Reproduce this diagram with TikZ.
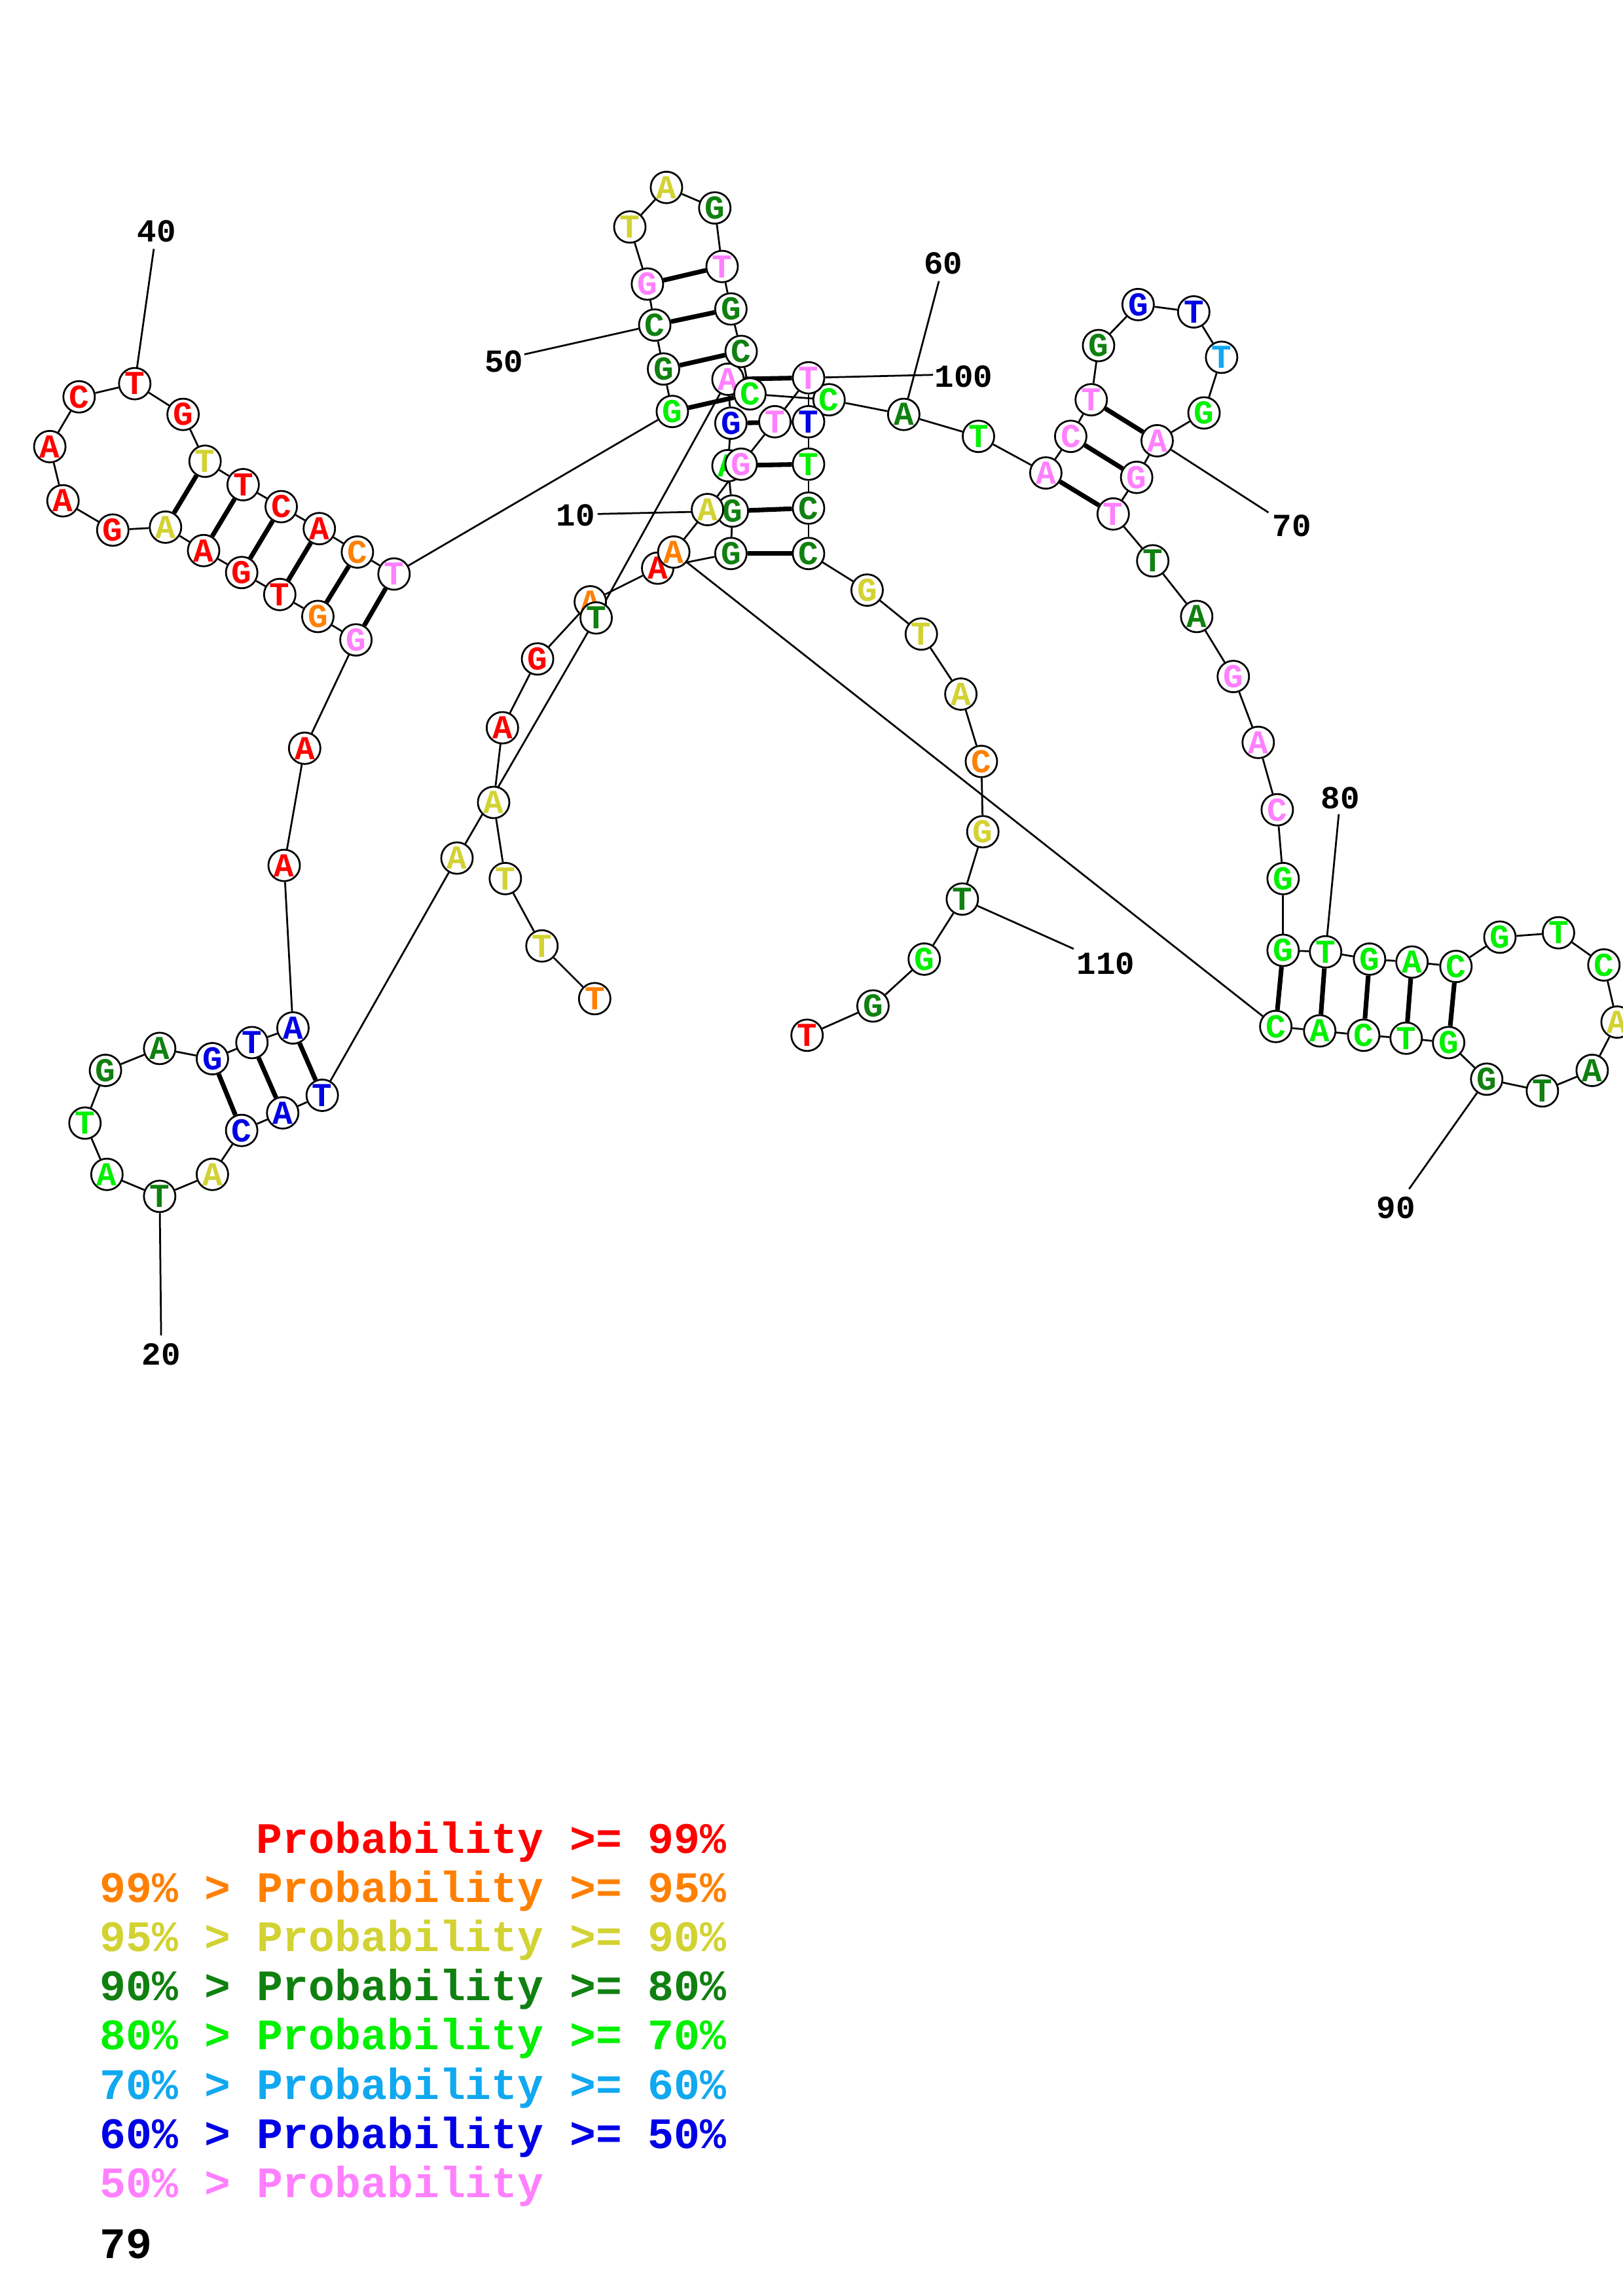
\documentclass[tikz,border=0pt]{standalone}
\usepackage{fontspec}
\setmonofont{Liberation Mono}
\usetikzlibrary{backgrounds}
\definecolor{cR}{HTML}{FF0000}
\definecolor{cO}{HTML}{FF8000}
\definecolor{cY}{HTML}{D2D232}
\definecolor{cD}{HTML}{108010}
\definecolor{cG}{HTML}{00F000}
\definecolor{cC}{HTML}{10A8F0}
\definecolor{cB}{HTML}{0000E6}
\definecolor{cP}{HTML}{FF80FF}
\newcommand\nuc[5]{\node[nt,text=#4] (n#1) at (#2,#3) {#5};}
\begin{document}
\begin{tikzpicture}[x=0.02cm,y=-0.02cm,
  nt/.style={circle,draw=black,line width=0.7pt,fill=white,minimum size=0.43cm,inner sep=0pt,font=\fontsize{13}{13}\ttfamily\bfseries},
  bb/.style={line width=0.7pt},
  bp/.style={line width=1.8pt},
  lbl/.style={font=\fontsize{12.5}{12.5}\ttfamily\bfseries,inner sep=0pt},
  leg/.style={font=\fontsize{16.9}{17}\ttfamily\bfseries,inner sep=0pt,anchor=base west}]
\useasboundingbox (0,0) rectangle (1108,1568);
% nucleotides
\nuc{1}{406}{682}{cO}{T}
\nuc{2}{370}{646}{cY}{T}
\nuc{3}{345}{600}{cY}{T}
\nuc{4}{337}{548}{cY}{A}
\nuc{5}{343}{497}{cR}{A}
\nuc{6}{367}{450}{cR}{G}
\nuc{7}{403}{411}{cO}{A}
\nuc{8}{449}{388}{cR}{A}
\nuc{9}{499}{378}{cD}{G}
\nuc{10}{500}{349}{cD}{G}
\nuc{11}{497}{318}{cG}{A}
\nuc{12}{499}{289}{cB}{G}
\nuc{13}{497}{259}{cP}{A}
\nuc{14}{407}{422}{cD}{T}
\nuc{15}{312}{586}{cY}{A}
\nuc{16}{220}{748}{cB}{T}
\nuc{17}{193}{760}{cB}{A}
\nuc{18}{165}{772}{cB}{C}
\nuc{19}{145}{802}{cY}{A}
\nuc{20}{109}{817}{cD}{T}
\nuc{21}{73}{802}{cG}{A}
\nuc{22}{58}{767}{cG}{T}
\nuc{23}{72}{731}{cD}{G}
\nuc{24}{109}{716}{cD}{A}
\nuc{25}{145}{723}{cB}{G}
\nuc{26}{172}{712}{cB}{T}
\nuc{27}{200}{702}{cB}{A}
\nuc{28}{194}{591}{cR}{A}
\nuc{29}{208}{511}{cR}{A}
\nuc{30}{243}{437}{cP}{G}
\nuc{31}{217}{421}{cO}{G}
\nuc{32}{191}{406}{cR}{T}
\nuc{33}{165}{391}{cR}{G}
\nuc{34}{139}{376}{cR}{A}
\nuc{35}{113}{360}{cY}{A}
\nuc{36}{77}{362}{cR}{G}
\nuc{37}{43}{342}{cR}{A}
\nuc{38}{34}{305}{cR}{A}
\nuc{39}{54}{271}{cR}{C}
\nuc{40}{92}{262}{cR}{T}
\nuc{41}{125}{283}{cR}{G}
\nuc{42}{140}{315}{cY}{T}
\nuc{43}{166}{331}{cR}{T}
\nuc{44}{192}{346}{cR}{C}
\nuc{45}{218}{361}{cR}{A}
\nuc{46}{244}{377}{cO}{C}
\nuc{47}{269}{392}{cP}{T}
\nuc{48}{459}{281}{cG}{G}
\nuc{49}{453}{252}{cD}{G}
\nuc{50}{447}{222}{cD}{C}
\nuc{51}{442}{194}{cP}{G}
\nuc{52}{430}{155}{cY}{T}
\nuc{53}{455}{128}{cY}{A}
\nuc{54}{488}{142}{cD}{G}
\nuc{55}{493}{182}{cP}{T}
\nuc{56}{499}{211}{cD}{G}
\nuc{57}{506}{240}{cD}{C}
\nuc{58}{512}{269}{cG}{C}
\nuc{59}{566}{273}{cG}{C}
\nuc{60}{617}{283}{cD}{A}
\nuc{61}{668}{298}{cG}{T}
\nuc{62}{714}{323}{cP}{A}
\nuc{63}{731}{298}{cP}{C}
\nuc{64}{745}{273}{cP}{T}
\nuc{65}{750}{236}{cD}{G}
\nuc{66}{777}{208}{cB}{G}
\nuc{67}{815}{213}{cB}{T}
\nuc{68}{834}{244}{cC}{T}
\nuc{69}{822}{282}{cG}{G}
\nuc{70}{790}{301}{cP}{A}
\nuc{71}{776}{326}{cP}{G}
\nuc{72}{760}{351}{cP}{T}
\nuc{73}{787}{383}{cD}{T}
\nuc{74}{817}{421}{cD}{A}
\nuc{75}{842}{462}{cP}{G}
\nuc{76}{859}{507}{cP}{A}
\nuc{77}{872}{553}{cP}{C}
\nuc{78}{876}{600}{cG}{G}
\nuc{79}{876}{649}{cG}{G}
\nuc{80}{905}{650}{cG}{T}
\nuc{81}{935}{655}{cG}{G}
\nuc{82}{964}{657}{cG}{A}
\nuc{83}{994}{660}{cG}{C}
\nuc{84}{1024}{640}{cG}{G}
\nuc{85}{1064}{637}{cG}{T}
\nuc{86}{1095}{659}{cG}{C}
\nuc{87}{1104}{698}{cY}{A}
\nuc{88}{1087}{731}{cD}{A}
\nuc{89}{1053}{745}{cD}{T}
\nuc{90}{1015}{737}{cD}{G}
\nuc{91}{989}{712}{cG}{G}
\nuc{92}{960}{709}{cG}{T}
\nuc{93}{931}{707}{cG}{C}
\nuc{94}{901}{704}{cG}{A}
\nuc{95}{871}{701}{cG}{C}
\nuc{96}{460}{377}{cO}{A}
\nuc{97}{483}{348}{cY}{A}
\nuc{98}{506}{317}{cP}{G}
\nuc{99}{529}{288}{cP}{T}
\nuc{100}{552}{258}{cP}{T}
\nuc{101}{552}{288}{cB}{T}
\nuc{102}{552}{317}{cG}{T}
\nuc{103}{552}{347}{cD}{C}
\nuc{104}{552}{378}{cD}{C}
\nuc{105}{592}{403}{cY}{G}
\nuc{106}{629}{433}{cY}{T}
\nuc{107}{656}{474}{cY}{A}
\nuc{108}{670}{520}{cO}{C}
\nuc{109}{671}{568}{cY}{G}
\nuc{110}{657}{614}{cD}{T}
\nuc{111}{631}{655}{cG}{G}
\nuc{112}{596}{687}{cD}{G}
\nuc{113}{551}{707}{cR}{T}
% number labels
\node[lbl] (t40) at (107,158) {40};
\node[lbl] (t20) at (110,925) {20};
\node[lbl] (t50) at (344,247) {50};
\node[lbl] (t10) at (393,352) {10};
\node[lbl] (t60) at (644,180) {60};
\node[lbl] (t100) at (658,257) {100};
\node[lbl] (t70) at (882,359) {70};
\node[lbl] (t80) at (915,545) {80};
\node[lbl] (t90) at (953,825) {90};
\node[lbl] (t110) at (755,658) {110};
\coordinate (e40) at (105,170);
\coordinate (e20) at (110,912);
\coordinate (e50) at (358,242);
\coordinate (e10) at (408,351);
\coordinate (e60) at (641,192);
\coordinate (e100) at (637,256);
\coordinate (e70) at (866,350);
\coordinate (e80) at (914,556);
\coordinate (e90) at (962,812);
\coordinate (e110) at (733,648);
% legend
\node[leg,text=cR] (L1) at (174.8,1265.5) {Probability >= 99\%};
\node[leg,text=cO] (L2) at (68,1299.1) {99\% > Probability >= 95\%};
\node[leg,text=cY] (L3) at (68,1332.7) {95\% > Probability >= 90\%};
\node[leg,text=cD] (L4) at (68,1366.3) {90\% > Probability >= 80\%};
\node[leg,text=cG] (L5) at (68,1399.9) {80\% > Probability >= 70\%};
\node[leg,text=cC] (L6) at (68,1433.5) {70\% > Probability >= 60\%};
\node[leg,text=cB] (L7) at (68,1467.1) {60\% > Probability >= 50\%};
\node[leg,text=cP] (L8) at (68,1500.7) {50\% > Probability};
\node[leg,text=black] (L9) at (68,1542.5) {79};
\begin{pgfonlayer}{background}
\fill[white] (0,0) rectangle (1108,1568);
\foreach \i in {1,...,112}{\pgfmathtruncatemacro\j{\i+1}\draw[bb] (n\i) -- (n\j);}
\foreach \a/\b in {9/104,10/103,11/102,12/101,13/100,16/27,17/26,18/25,30/47,31/46,32/45,33/44,34/43,35/42,48/58,49/57,50/56,51/55,62/72,63/71,64/70,79/95,80/94,81/93,82/92,83/91}{\draw[bp] (n\a) -- (n\b);}
\foreach \k in {40,20,50,10,60,100,70,80,90,110}{\draw[bb] (e\k) -- (n\k);}
\end{pgfonlayer}
\end{tikzpicture}
\end{document}
